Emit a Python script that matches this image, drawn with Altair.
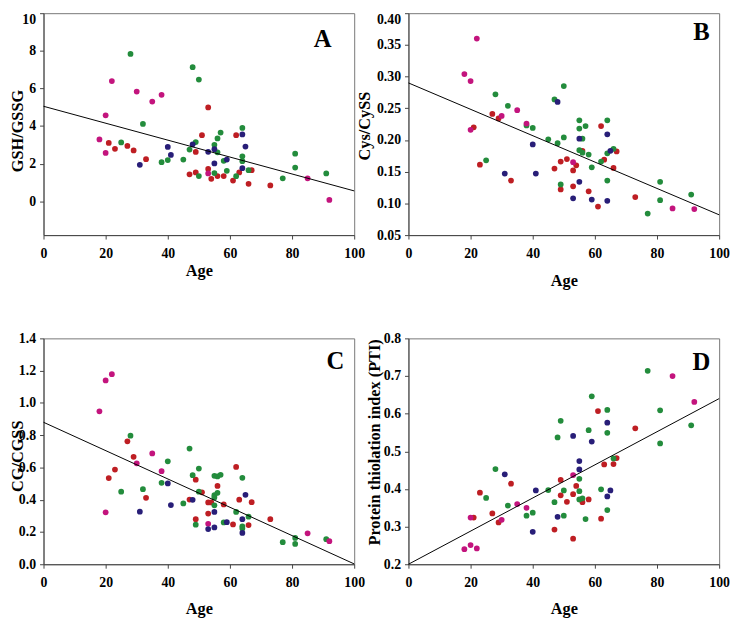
import altair as alt
import pandas as pd

# ---------------- data ----------------
GROUPS = ["magenta", "red", "green", "navy"]
COLORS = ["#C3147D", "#BE1E23", "#238C3C", "#281E78"]

magenta_age = [18, 20, 20, 22, 30, 35, 38, 53, 85, 92]
red_age = [21, 23, 27, 29, 33, 47, 49, 49, 51, 53, 53, 54, 56, 58, 61, 62, 63, 66, 67, 73]
navy_age = [31, 40, 41, 48, 53, 55, 55, 59, 64, 64, 65]

# Panel A: GSH/GSSG
A_magenta = [3.29, 2.57, 4.57, 6.39, 5.83, 5.30, 5.66, 1.48, 1.22, 0.07]
A_red = [3.10, 2.79, 2.94, 2.70, 2.24, 1.43, 1.53, 2.62, 3.51, 4.99, 1.72, 1.19, 1.34, 1.34, 1.10, 3.51, 1.53, 0.93, 1.65, 0.84]
A_navy = [1.94, 2.89, 2.46, 3.03, 2.63, 2.77, 2.01, 2.22, 3.55, 1.76, 2.91]
A_green_age = [25, 28, 32, 38, 40, 45, 47, 48, 49, 50, 50, 55, 55, 56, 56, 57, 58, 59, 62, 64, 64, 64, 66, 77, 81, 81, 91]
A_green = [3.13, 7.83, 4.11, 2.08, 2.19, 2.22, 2.75, 7.13, 3.15, 6.47, 1.34, 3.00, 1.50, 2.60, 3.34, 3.65, 2.15, 1.62, 1.33, 3.90, 2.39, 2.13, 1.65, 1.22, 2.53, 1.79, 1.48]
A_fit = [5.05, 0.55]

# Panel B: Cys/CySS
B_magenta = [0.304, 0.293, 0.216, 0.360, 0.238, 0.247, 0.226, 0.165, 0.092, 0.091]
B_red = [0.220, 0.161, 0.241, 0.234, 0.136, 0.155, 0.122, 0.166, 0.170, 0.152, 0.127, 0.160, 0.183, 0.119, 0.095, 0.222, 0.169, 0.156, 0.182, 0.110]
B_navy = [0.147, 0.193, 0.147, 0.260, 0.108, 0.202, 0.134, 0.106, 0.209, 0.104, 0.183]
B_green_age = [25, 28, 32, 38, 40, 45, 47, 48, 49, 50, 50, 55, 55, 55, 56, 56, 57, 58, 59, 62, 64, 64, 64, 66, 77, 81, 81, 91]
B_green = [0.168, 0.272, 0.254, 0.223, 0.219, 0.201, 0.264, 0.195, 0.130, 0.285, 0.204, 0.231, 0.218, 0.184, 0.202, 0.180, 0.222, 0.177, 0.157, 0.166, 0.231, 0.179, 0.136, 0.186, 0.084, 0.134, 0.105, 0.114]
B_fit = [0.290, 0.082]

# Panel C: CG/CGSS
C_magenta = [0.948, 1.139, 0.322, 1.178, 0.626, 0.687, 0.577, 0.251, 0.192, 0.143]
C_red = [0.534, 0.587, 0.762, 0.666, 0.412, 0.401, 0.279, 0.524, 0.446, 0.383, 0.314, 0.383, 0.485, 0.371, 0.247, 0.603, 0.400, 0.243, 0.385, 0.279]
C_navy = [0.326, 0.501, 0.367, 0.399, 0.218, 0.324, 0.228, 0.261, 0.279, 0.194, 0.430]
C_green_age = [25, 28, 32, 38, 40, 45, 47, 48, 49, 50, 50, 55, 55, 55, 55, 56, 56, 57, 58, 62, 64, 64, 64, 66, 77, 81, 81, 91]
C_green = [0.450, 0.797, 0.465, 0.505, 0.638, 0.377, 0.717, 0.552, 0.245, 0.593, 0.450, 0.548, 0.428, 0.414, 0.365, 0.544, 0.443, 0.554, 0.259, 0.324, 0.536, 0.235, 0.222, 0.295, 0.137, 0.163, 0.126, 0.155]
C_fit = [0.880, 0.002]

# Panel D: Protein thiolation index (PTI)
D_magenta = [0.240, 0.251, 0.324, 0.242, 0.318, 0.360, 0.350, 0.437, 0.700, 0.631]
D_red = [0.324, 0.390, 0.335, 0.311, 0.414, 0.292, 0.383, 0.424, 0.366, 0.386, 0.268, 0.408, 0.365, 0.372, 0.607, 0.321, 0.465, 0.466, 0.482, 0.561]
D_navy = [0.439, 0.286, 0.396, 0.326, 0.541, 0.474, 0.452, 0.526, 0.576, 0.380, 0.396]
D_green_age = [25, 28, 32, 38, 40, 45, 47, 48, 49, 50, 50, 55, 55, 55, 56, 57, 58, 59, 62, 64, 64, 64, 66, 77, 81, 81, 91]
D_green = [0.376, 0.453, 0.356, 0.329, 0.337, 0.397, 0.365, 0.537, 0.581, 0.396, 0.329, 0.427, 0.394, 0.372, 0.375, 0.320, 0.556, 0.646, 0.399, 0.610, 0.549, 0.344, 0.481, 0.714, 0.609, 0.521, 0.569]
D_fit = [0.200, 0.640]

fit_age = [0, 100]
x_ticks = [0, 20, 40, 60, 80, 100]

FONT = "Liberation Serif"
W = 315


def panel(letter, magenta, red, green_age, green, navy, fit, ydomain, yticks, yfmt,
          ytitle, ytitle_x, ytitle_y, xtitle_y, letter_x, letter_y, height, top_shift):
    rows = []
    for g, ages, vals in [("red", red_age, red), ("green", green_age, green),
                          ("magenta", magenta_age, magenta), ("navy", navy_age, navy)]:
        for a, v in zip(ages, vals):
            rows.append({"age": a, "value": v, "group": g})
    pts = pd.DataFrame(rows)
    fit_df = pd.DataFrame({"age": fit_age, "value": fit})

    x = alt.X("age:Q",
              scale=alt.Scale(domain=[0, 100], nice=False, zero=False),
              axis=alt.Axis(values=x_ticks, title="Age", format="d", tickSize=4,
                            labelPadding=8, labelFlush=False, labelOverlap=False,
                            titleY=xtitle_y, titleBaseline="alphabetic"))
    top = yticks[-1]
    y_axis_kw = dict(values=yticks, title=ytitle, format=yfmt, tickSize=4,
                     labelPadding=4, labelFlush=False, labelOverlap=False,
                     titleX=ytitle_x, titleY=ytitle_y, titleAngle=-90,
                     titleBaseline="alphabetic", titleAlign="center")
    if top_shift:
        y_axis_kw["labelOffset"] = {
            "condition": {"test": f"datum.value >= {top - 1e-6}", "value": top_shift},
            "value": 0,
        }
    y = alt.Y("value:Q",
              scale=alt.Scale(domain=ydomain, nice=False, zero=False),
              axis=alt.Axis(**y_axis_kw))

    points = alt.Chart(pts).mark_circle(size=34, opacity=1).encode(
        x=x, y=y,
        color=alt.Color("group:N", scale=alt.Scale(domain=GROUPS, range=COLORS), legend=None),
    )
    line = alt.Chart(fit_df).mark_line(color="black", strokeWidth=1).encode(x=x, y=y)
    label = alt.Chart(pd.DataFrame({"t": [letter]})).mark_text(
        font=FONT, fontWeight="bold", fontSize=25, baseline="alphabetic",
        align="center", color="black"
    ).encode(text="t:N", x=alt.value(letter_x), y=alt.value(letter_y))
    return alt.layer(points, line, label).properties(width=W, height=height)


pA = panel("A", A_magenta, A_red, A_green_age, A_green, A_navy, A_fit,
           [-1.8, 10], [0, 2, 4, 6, 8, 10], "d", "GSH/GSSG", -21, 119, 41, 283, 34, 225, 6)
pB = panel("B", B_magenta, B_red, B_green_age, B_green, B_navy, B_fit,
           [0.05, 0.40], [0.05, 0.10, 0.15, 0.20, 0.25, 0.30, 0.35, 0.40], ".2f",
           "Cys/CySS", -39, 114, 51, 297, 27, 225, 6)
pC = panel("C", C_magenta, C_red, C_green_age, C_green, C_navy, C_fit,
           [0, 1.4], [0, 0.2, 0.4, 0.6, 0.8, 1.0, 1.2, 1.4], ".1f",
           "CG/CGSS", -21, 119, 50, 296, 31, 229, 0)
pD = panel("D", D_magenta, D_red, D_green_age, D_green, D_navy, D_fit,
           [0.2, 0.8], [0.2, 0.3, 0.4, 0.5, 0.6, 0.7, 0.8], ".1f",
           "Protein thiolation index (PTI)", -29, 105, 50, 297, 32, 229, 0)

chart = alt.concat(
    pA, pB, pC, pD, columns=2,
    spacing={"row": 104.7, "column": 55}, bounds="flush",
).properties(
    padding={"left": 1, "top": -1, "right": 0, "bottom": 0}
).configure_axis(
    grid=False,
    labelFont=FONT, titleFont=FONT,
    labelFontWeight="bold", titleFontWeight="bold",
    labelFontSize=14, titleFontSize=16.5,
    labelColor="black", titleColor="black",
    domainColor="#444", tickColor="#444",
).configure_view(stroke="#777", strokeWidth=1)

chart.save("out.html", embed_options={"renderer": "svg", "actions": False})
